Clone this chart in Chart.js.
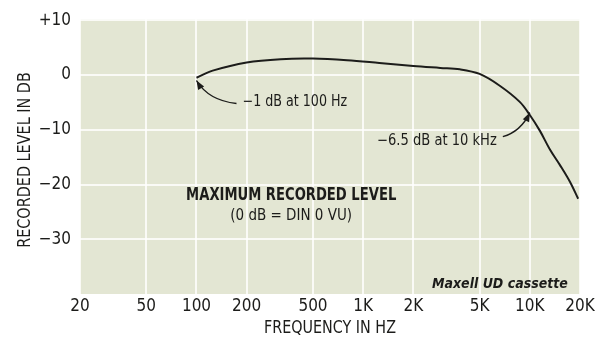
<!DOCTYPE html>
<html>
<head>
<meta charset="utf-8">
<script src="https://cdn.jsdelivr.net/npm/chart.js@4"></script>
<style>
    html, body { margin: 0; padding: 0; background: #ffffff; }
    canvas { display: block; }
</style>
</head>
<body>
<canvas id="levelChart" width="599" height="340"></canvas>
<script>
// Chart data
const freqHz = [100, 125, 200, 320, 500, 800, 1250, 2000, 2900, 3800, 5000, 6600, 8700, 10000, 11500, 13200, 15200, 17400, 19500];
const levelDb = [-0.5, 0.8, 2.3, 2.9, 3.0, 2.7, 2.2, 1.65, 1.3, 1.05, 0.2, -1.95, -4.9, -7.3, -10.2, -13.6, -16.5, -19.5, -22.6];

const xTickValues = [20, 50, 100, 200, 500, 1000, 2000, 5000, 10000, 20000];
const xTickLabels = ["20", "50", "100", "200", "500", "1K", "2K", "5K", "10K", "20K"];
const yTickValues = [10, 0, -10, -20, -30];
const yTickLabels = ["+10", "0", "\u221210", "\u221220", "\u221230"];

// Callouts: the curve point each arrow points at
const calloutText = ["\u22121 dB at 100 Hz", "\u22126.5 dB at 10 kHz"];
const calloutFreq = [100, 10000];
const calloutDb = [-1, -6.5];

const FONT = "'Liberation Sans Narrow', 'DejaVu Sans Condensed', sans-serif";
const INK = "#1c1c1a";

// Beige paper behind the plot
const paperPlugin = {
    id: "paper",
    beforeDraw(chart) {
        const { ctx, chartArea } = chart;
        ctx.save();
        ctx.fillStyle = "#e3e6d3";
        ctx.fillRect(chartArea.left, chartArea.top, chartArea.right - chartArea.left, chartArea.bottom - chartArea.top);
        ctx.restore();
    }
};

// text squeezed sideways, the original uses a condensed face
function narrowText(ctx, text, x, y, squeeze, rotate) {
    ctx.save();
    ctx.translate(x, y);
    if (rotate) ctx.rotate(-Math.PI / 2);
    ctx.scale(squeeze, 1);
    ctx.fillText(text, 0, 0);
    ctx.restore();
}

function drawArrow(ctx, tail, ctrl, tip) {
    ctx.beginPath();
    ctx.moveTo(tail.x, tail.y);
    ctx.quadraticCurveTo(ctrl.x, ctrl.y, tip.x, tip.y);
    ctx.stroke();
    // arrow head along the end tangent
    const ang = Math.atan2(tip.y - ctrl.y, tip.x - ctrl.x);
    const len = 9, half = 3.5;
    ctx.beginPath();
    ctx.moveTo(tip.x, tip.y);
    ctx.lineTo(tip.x - len * Math.cos(ang) + half * Math.sin(ang), tip.y - len * Math.sin(ang) - half * Math.cos(ang));
    ctx.lineTo(tip.x - len * Math.cos(ang) - half * Math.sin(ang), tip.y - len * Math.sin(ang) + half * Math.cos(ang));
    ctx.closePath();
    ctx.fill();
}

const notesPlugin = {
    id: "notes",
    afterDatasetsDraw(chart) {
        const { ctx, scales, chartArea } = chart;
        const x = scales.x, y = scales.y;
        ctx.save();
        ctx.fillStyle = INK;
        ctx.strokeStyle = INK;
        ctx.lineWidth = 1.4;
        ctx.textBaseline = "middle";

        // axis titles
        ctx.textAlign = "center";
        ctx.font = "18px " + FONT;
        narrowText(ctx, "FREQUENCY IN HZ", (chartArea.left + chartArea.right) / 2, 328, 0.885, false);
        narrowText(ctx, "RECORDED LEVEL IN DB", 25, 160, 0.89, true);

        // -1 dB at 100 Hz
        ctx.font = "15px " + FONT;
        let px = x.getPixelForValue(calloutFreq[0]);
        let py = y.getPixelForValue(calloutDb[0]);
        drawArrow(ctx, { x: px + 40, y: py + 23 }, { x: px + 12, y: py + 20 }, { x: px, y: py });
        ctx.textAlign = "left";
        narrowText(ctx, calloutText[0], px + 46, py + 22, 0.94, false);

        // -6.5 dB at 10 kHz
        px = x.getPixelForValue(calloutFreq[1]);
        py = y.getPixelForValue(calloutDb[1]);
        drawArrow(ctx, { x: px - 27, y: py + 26 }, { x: px - 9, y: py + 21 }, { x: px, y: py + 2 });
        ctx.textAlign = "right";
        narrowText(ctx, calloutText[1], px - 33, py + 30, 0.97, false);

        // Title block
        ctx.textAlign = "center";
        ctx.font = "bold 17px " + FONT;
        narrowText(ctx, "MAXIMUM RECORDED LEVEL", x.getPixelForValue(370), y.getPixelForValue(-22.1), 0.86, false);
        ctx.font = "15px " + FONT;
        ctx.fillText("(0 dB = DIN 0 VU)", x.getPixelForValue(370), y.getPixelForValue(-25.8));

        ctx.textAlign = "right";
        ctx.font = "italic bold 14px " + FONT;
        ctx.fillText("Maxell UD cassette", x.getPixelForValue(16900), y.getPixelForValue(-38.3));
        ctx.restore();
    }
};

const ctx = document.getElementById("levelChart").getContext("2d");

new Chart(ctx, {
    type: "line",
    data: {
        labels: freqHz,
        datasets: [{
            data: freqHz.map((f, i) => ({ x: f, y: levelDb[i] })),
            borderColor: INK,
            borderWidth: 2,
            pointRadius: 0,
            tension: 0.35,
            fill: false
        }]
    },
    options: {
        responsive: false,
        animation: false,
        devicePixelRatio: 1,
        layout: { autoPadding: false, padding: { top: 14, right: 19, left: 0, bottom: 0 } },
        plugins: {
            legend: { display: false },
            tooltip: { enabled: false }
        },
        scales: {
            x: {
                type: "logarithmic",
                min: 20,
                max: 20000,
                afterBuildTicks: (scale) => {
                    scale.ticks = xTickValues.map(v => ({ value: v }));
                },
                afterFit: (scale) => { scale.height = 46; },
                ticks: {
                    autoSkip: false,
                    maxRotation: 0,
                    padding: 2,
                    color: INK,
                    font: { family: FONT, size: 17 },
                    callback: (value) => xTickLabels[xTickValues.indexOf(value)]
                },
                grid: { color: "rgba(255,255,255,0.8)", lineWidth: 2, drawTicks: false },
                border: { display: false }
            },
            y: {
                min: -40,
                max: 10.2,
                afterBuildTicks: (scale) => {
                    scale.ticks = yTickValues.map(v => ({ value: v }));
                },
                afterFit: (scale) => { scale.width = 80; },
                ticks: {
                    padding: 9,
                    color: INK,
                    font: { family: FONT, size: 17 },
                    callback: (value) => yTickLabels[yTickValues.indexOf(value)]
                },
                grid: { color: "rgba(255,255,255,0.8)", lineWidth: 2, drawTicks: false },
                border: { display: false }
            }
        }
    },
    plugins: [paperPlugin, notesPlugin]
});
</script>
</body>
</html>
